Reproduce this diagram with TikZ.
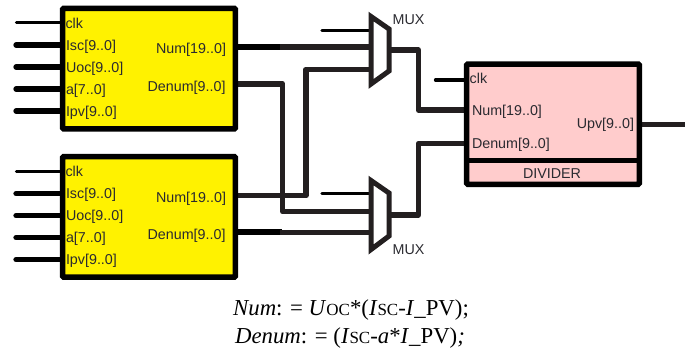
\documentclass[tikz,border=0pt]{standalone}
\usepackage{fontspec}
\setmainfont{Liberation Sans}
\newfontfamily\fser{Liberation Serif}
\definecolor{wirecol}{HTML}{231F20}
\definecolor{txtcol}{HTML}{2A2A30}
\tikzset{
  blockbox/.style={draw=black,line width=5.5pt,rounded corners=1pt,inner sep=0,outer sep=0,minimum width=172.6pt},
  yellowbox/.style={blockbox,fill=yellow,minimum height=120.6pt},
  pinkbox/.style={blockbox,fill=pink!80!white,minimum height=120.1pt},
  muxbox/.style={draw=wirecol,line width=5pt,line join=miter,fill=white},
  thinpin/.style={draw=black,line width=3.3pt,line cap=round},
  thickpin/.style={draw=black,line width=5.3pt,line cap=round},
  busw/.style={draw=wirecol,line width=5.5pt,line join=round},
  busk/.style={draw=black,line width=6.3pt},
  lab/.style={font=\fontsize{14.3}{16}\selectfont,text=txtcol,inner sep=0,outer sep=0},
  labl/.style={lab,anchor=base west},
  labr/.style={lab,anchor=base east},
  eqn/.style={font=\fser\fontsize{22.8}{26}\selectfont,text=black,inner sep=0,anchor=base}
}
\newcommand{\smc}[1]{{\fontsize{17}{20}\selectfont #1}}
\begin{document}
\begin{tikzpicture}[x=1pt,y=-1pt]
\useasboundingbox (0,0) rectangle (685,351);
\path (149,68.6) coordinate (b1c) (149,216.9) coordinate (b2c) (553,124.2) coordinate (dc);
% free ends
\foreach \n/\y in {clka/22.7,clkb/171.3}{\coordinate (\n) at (16.5,\y);}
\foreach \n/\y in {isa/45,uoa/67,aa/89,ipa/111,isb/193.7,uob/215.7,ab/237.7,ipb/259.7}{\coordinate (\n) at (16,\y);}
\coordinate (clkm1) at (322,30.3);
\coordinate (clkm2) at (322,193.7);
\coordinate (clkd) at (435.5,80);
\coordinate (upvend) at (685,124.3);
% mux corner names
\coordinate (m1tl) at (371,16.5);
\coordinate (m1tr) at (389,29);
\coordinate (m1br) at (389,71);
\coordinate (m1bl) at (371,84);
\coordinate (m2tl) at (371,180.5);
\coordinate (m2tr) at (389,193);
\coordinate (m2br) at (389,236);
\coordinate (m2bl) at (371,249.5);
% wires
\draw[thinpin] (clkm1) -- (clkm1 -| m1tl);
\draw[thinpin] (clkm2) -- (clkm2 -| m2tl);
\path (238,47) coordinate (n1o) (238,84) coordinate (d1o) (238,195.7) coordinate (n2o) (238,232.3) coordinate (d2o);
\coordinate (o1) at (389,50);
\coordinate (o2) at (389,215);
\draw[busk] (n1o) -- (282,47);
\draw[busw] (280,47) -- (n1o -| m1tl);
\draw[busw] (d1o) -| (282.7,211.7) -- (m2tl |- 0,211.7);
\draw[busw] (n2o) -| (306,69.3) -- (m1tl |- 0,69.3);
\draw[busk] (d2o) -- (282,232.3);
\draw[busw] (280,232.3) -- (d2o -| m2tl);
\draw[busw] (o1) -| (418.3,110) -- (466,110);
\draw[busw] (o2) -| (418.3,143.7) -- (466,143.7);
\draw[busw] (642,124.3) -- (upvend);
% input pins
\foreach \n in {clka,clkb}{\draw[thinpin] (\n) -- (\n -| b1c) ;}
\foreach \n in {isa,uoa,aa,ipa,isb,uob,ab,ipb}{\draw[thickpin] (\n) -- (\n -| b1c);}
\draw[thinpin] (clkd) -- (clkd -| dc);
% muxes
\draw[muxbox] (m1tl) -- (m1tr) -- (m1br) -- (m1bl) -- cycle;
\draw[muxbox] (m2tl) -- (m2tr) -- (m2br) -- (m2bl) -- cycle;
% blocks
\node[yellowbox] (b1) at (b1c) {};
\node[yellowbox] (b2) at (b2c) {};
\node[pinkbox] (div) at (dc) {};
\draw[draw=black,line width=5pt] (div.west |- 0,160.7) -- (div.east |- 0,160.7);
% labels block 1
\node[labl] (t1a) at (65.5,28) {clk};
\node[labl] (t1b) at (66,50) {Isc[9..0]};
\node[labl] (t1c) at (66,72) {Uoc[9..0]};
\node[labl] (t1d) at (66,94) {a[7..0]};
\node[labl] (t1e) at (66,116) {Ipv[9..0]};
\node[labr] (t1f) at (226,53.5) {Num[19..0]};
\node[labr] (t1g) at (225.5,91.7) {Denum[9..0]};
% labels block 2
\node[labl] (t2a) at (65.5,176) {clk};
\node[labl] (t2b) at (66,198.3) {Isc[9..0]};
\node[labl] (t2c) at (66,220.3) {Uoc[9..0]};
\node[labl] (t2d) at (66,242.3) {a[7..0]};
\node[labl] (t2e) at (66,264.3) {Ipv[9..0]};
\node[labr] (t2f) at (226,202.3) {Num[19..0]};
\node[labr] (t2g) at (225.5,239.7) {Denum[9..0]};
% divider labels
\node[labl] (t3a) at (469.7,83.3) {clk};
\node[labl] (t3b) at (472,115.7) {Num[19..0]};
\node[labl] (t3c) at (472,148.7) {Denum[9..0]};
\node[labr] (t3d) at (634,128.3) {Upv[9..0]};
\node[lab,anchor=base] (t3e) at (552,178.7) {DIVIDER};
\node[labl] (mx1) at (392.7,24.3) {MUX};
\node[labl] (mx2) at (392.7,254) {MUX};
% formula
\node[eqn] (e1) at (351,315) {\textit{Num}: = \textit{U}\smc{OC}*(\textit{I}\smc{SC}-\textit{I}\_PV);};
\node[eqn] (e2) at (350,343) {\textit{Denum}: = (\textit{I}\smc{SC}-\textit{a}*\textit{I}\_PV)\textit{;}};
\end{tikzpicture}
\end{document}
